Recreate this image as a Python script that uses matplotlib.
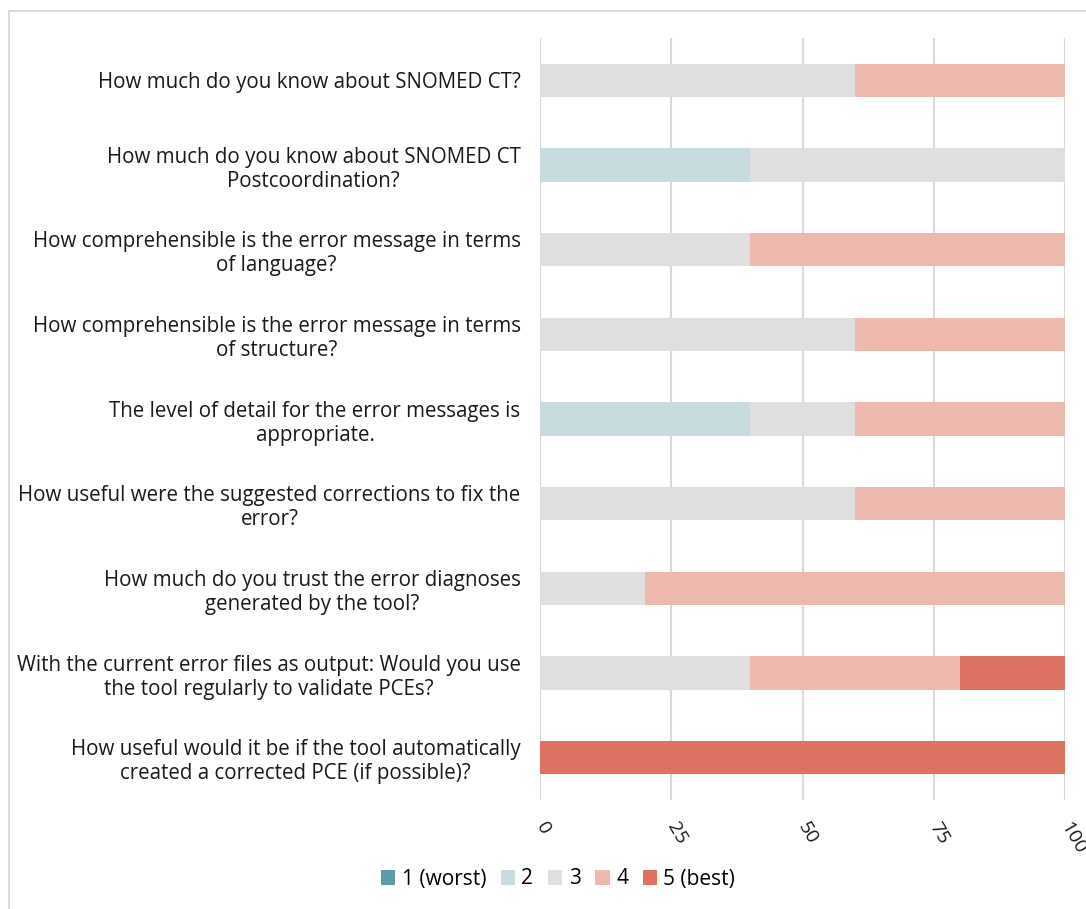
import matplotlib.pyplot as plt
import matplotlib.patches as mpatches
import numpy as np

plt.rcParams['font.family'] = ['Open Sans', 'DejaVu Sans']

questions = [
    "How much do you know about SNOMED CT?",
    "How much do you know about SNOMED CT\nPostcoordination?",
    "How comprehensible is the error message in terms\nof language?",
    "How comprehensible is the error message in terms\nof structure?",
    "The level of detail for the error messages is\nappropriate.",
    "How useful were the suggested corrections to fix the\nerror?",
    "How much do you trust the error diagnoses\ngenerated by the tool?",
    "With the current error files as output: Would you use\nthe tool regularly to validate PCEs?",
    "How useful would it be if the tool automatically\ncreated a corrected PCE (if possible)?",
]

levels = ["1 (worst)", "2", "3", "4", "5 (best)"]
colors = ["#5E9BA8", "#C8DCDF", "#DFDFDF", "#EDB8AD", "#DE7262"]

# percent of answers per level, one list per question
s1 = [0, 0, 0, 0, 0, 0, 0, 0, 0]
s2 = [0, 40, 0, 0, 40, 0, 0, 0, 0]
s3 = [60, 60, 40, 60, 20, 60, 20, 40, 0]
s4 = [40, 0, 60, 40, 40, 40, 80, 40, 0]
s5 = [0, 0, 0, 0, 0, 0, 0, 20, 100]
series = [s1, s2, s3, s4, s5]

fig = plt.figure(figsize=(10.86, 9.09), dpi=100)
ax = fig.add_axes([540 / 1086, 1 - 800 / 909, 525 / 1086, 762 / 909])

# chart frame
fig.patches.append(mpatches.Rectangle((9 / 1086, -0.05), 1.2, 1 - 11 / 909 + 0.05,
                                      transform=fig.transFigure, fill=False,
                                      edgecolor="#D6D6D6", linewidth=1.2))

y = np.arange(len(questions))
left = np.zeros(len(questions))
for lab, col, vals in zip(levels, colors, series):
    vals = np.array(vals, dtype=float)
    ax.barh(y, vals, left=left, height=0.39, color=col, label=lab, zorder=3)
    left += vals

ax.set_ylim(len(questions) - 0.5, -0.5)
ax.set_xlim(0, 100)
ax.set_xticks([0, 25, 50, 75, 100])
ax.set_xticklabels(["0", "25", "50", "75", "100"], rotation=-60, ha="left",
                   va="center", rotation_mode="anchor", fontsize=14)
ax.set_yticks(y)
ax.set_yticklabels(questions, fontsize=14.8, multialignment="center",
                   linespacing=1.2)
ax.tick_params(axis="both", length=0, colors="#1A1A1A")
ax.tick_params(axis="y", pad=14)
ax.tick_params(axis="x", pad=17)
ax.grid(axis="x", color="#D9D9D9", linewidth=1.5, zorder=0)
for sp in ax.spines.values():
    sp.set_visible(False)

fig.legend(loc="center", bbox_to_anchor=(558 / 1086, 1 - 879 / 909), ncol=5,
           frameon=False, fontsize=15, handlelength=0.7, handleheight=0.7,
           handletextpad=0.3, columnspacing=0.7)

fig.savefig("out.png", dpi=100)
